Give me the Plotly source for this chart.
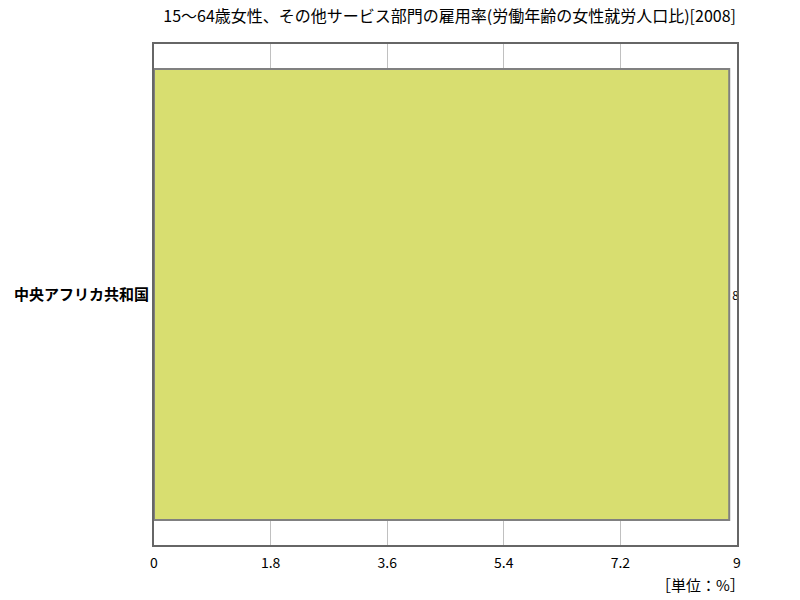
import plotly.graph_objects as go

# Data
title = "15～64歳女性、その他サービス部門の雇用率(労働年齢の女性就労人口比)[2008]"
countries = ["中央アフリカ共和国"]
values = [8.88]
tick_vals = [0, 1.8, 3.6, 5.4, 7.2, 9]
tick_text = ["0", "1.8", "3.6", "5.4", "7.2", "9"]

font_name = "Noto Sans CJK JP"

fig = go.Figure(go.Bar(
    x=values,
    y=countries,
    orientation="h",
    width=0.9,
    marker=dict(color="#d8de70", line=dict(color="#808080", width=2)),
    text=[str(v) for v in values],
    textposition="outside",
    cliponaxis=True,
    constraintext="none",
    textfont=dict(family=font_name, size=12, color="#000000"),
))

fig.update_layout(
    width=800,
    height=600,
    margin=dict(l=154, r=63, t=44, b=55),
    paper_bgcolor="white",
    plot_bgcolor="white",
    showlegend=False,
    font=dict(family=font_name, size=12, color="#000000"),
    title=dict(text=title, x=0.562, xanchor="center", y=0.972, yanchor="middle",
               font=dict(family=font_name, size=16, color="#000000")),
    xaxis=dict(
        range=[0, 9],
        tickvals=tick_vals,
        ticktext=tick_text,
        showgrid=True,
        gridcolor="#c0c0c0",
        gridwidth=1,
        zeroline=False,
        showline=True,
        linecolor="#666666",
        linewidth=2,
        mirror=True,
        ticks="",
        automargin=False,
        ticklabelstandoff=4,
        tickfont=dict(family=font_name, size=14, color="#000000"),
    ),
    yaxis=dict(
        showgrid=False,
        zeroline=False,
        showline=True,
        linecolor="#666666",
        linewidth=2,
        mirror=True,
        ticks="",
        automargin=False,
        tickfont=dict(family=font_name, size=15, color="#000000", weight="bold"),
    ),
    annotations=[dict(
        text="［単位：%］",
        xref="paper", yref="paper",
        x=1.017, y=-0.054,
        xanchor="right", yanchor="top",
        showarrow=False,
        font=dict(family=font_name, size=15, color="#000000"),
    )],
)

# drop the page's default body margin so the figure sits at the window corner
fig.write_html("out.html", config={"displayModeBar": False},
               post_script="document.body.style.margin='0';")
